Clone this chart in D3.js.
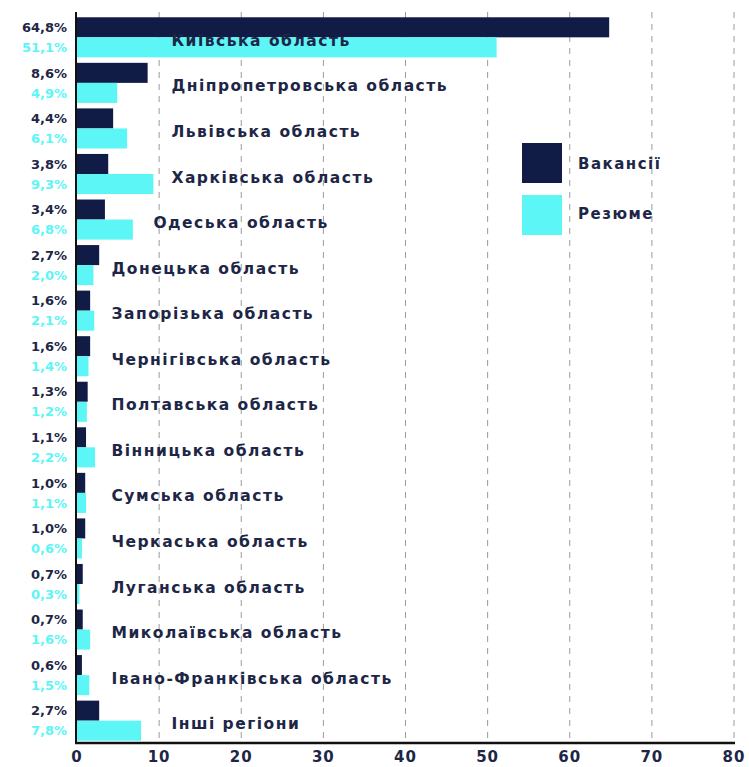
<!DOCTYPE html>
<html>
<head>
<meta charset="utf-8">
<script src="https://cdn.jsdelivr.net/npm/d3@7"></script>
<style>
  body { margin: 0; background: #fff; }
  text { font-family: "DejaVu Sans", sans-serif; font-weight: 700; }
</style>
</head>
<body>
<div id="graph"></div>
<script>
const width = 749,
  height = 767;

const regions = [
  "Київська область", "Дніпропетровська область", "Львівська область", "Харківська область",
  "Одеська область", "Донецька область", "Запорізька область", "Чернігівська область",
  "Полтавська область", "Вінницька область", "Сумська область", "Черкаська область",
  "Луганська область", "Миколаївська область", "Івано-Франківська область", "Інші регіони"
];
const vacancies = [64.8, 8.6, 4.4, 3.8, 3.4, 2.7, 1.6, 1.6, 1.3, 1.1, 1.0, 1.0, 0.7, 0.7, 0.6, 2.7];
const resumes = [51.1, 4.9, 6.1, 9.3, 6.8, 2.0, 2.1, 1.4, 1.2, 2.2, 1.1, 0.6, 0.3, 1.6, 1.5, 7.8];
const xTicks = [0, 10, 20, 30, 40, 50, 60, 70, 80];
const seriesNames = ["Вакансії", "Резюме"];

// where each region name starts, in axis units
const labelAt = [11.5, 11.5, 11.5, 11.5, 9.3, 4.2, 4.2, 4.2, 4.2, 4.2, 4.2, 4.2, 4.2, 4.2, 4.2, 11.5];

const navy = "#111c46",
  cyan = "#5cf6f6",
  ink = "#1d2646";

const svg = d3.select("#graph").append("svg")
  .attr('width', width)
  .attr('height', height);

const x = d3.scaleLinear().domain([0, 80]).range([77, 734]);
const y = d3.scaleBand().domain(regions).range([15, 743]).paddingInner(0.12).paddingOuter(0.05);
const half = y.bandwidth() / 2;

// dashed grid
svg.append("g")
  .selectAll("line")
  .data(xTicks.slice(1))
  .join("line")
  .attr("x1", d => x(d)).attr("x2", d => x(d))
  .attr("y1", 12).attr("y2", 742)
  .attr("stroke", "#9a9a9a")
  .attr("stroke-width", 1)
  .attr("stroke-dasharray", "6,6");

const rows = regions.map((r, i) => ({ r, v: vacancies[i], c: resumes[i], at: labelAt[i] }));

const g = svg.append("g");

g.selectAll("rect.v")
  .data(rows)
  .join("rect")
  .attr("class", "v")
  .attr("x", x(0))
  .attr("y", d => y(d.r))
  .attr("width", d => x(d.v) - x(0))
  .attr("height", half)
  .attr("fill", navy);

g.selectAll("rect.c")
  .data(rows)
  .join("rect")
  .attr("class", "c")
  .attr("x", x(0))
  .attr("y", d => y(d.r) + half)
  .attr("width", d => x(d.c) - x(0))
  .attr("height", half)
  .attr("fill", cyan);

const fmt = v => d3.format(".1f")(v).replace(".", ",") + "%";

g.selectAll("text.vl")
  .data(rows)
  .join("text")
  .attr("class", "vl")
  .attr("x", 67)
  .attr("y", d => y(d.r) + half / 2)
  .attr("dy", "0.36em")
  .attr("text-anchor", "end")
  .attr("font-size", 13)
  .attr("fill", ink)
  .text(d => fmt(d.v));

g.selectAll("text.cl")
  .data(rows)
  .join("text")
  .attr("class", "cl")
  .attr("x", 67)
  .attr("y", d => y(d.r) + half * 1.5)
  .attr("dy", "0.36em")
  .attr("text-anchor", "end")
  .attr("font-size", 13)
  .attr("fill", cyan)
  .text(d => fmt(d.c));

g.selectAll("text.name")
  .data(rows)
  .join("text")
  .attr("class", "name")
  .attr("x", d => x(d.at))
  .attr("y", d => y(d.r) + half + 3)
  .attr("dy", "0.36em")
  .attr("font-size", 15.5)
  .attr("letter-spacing", 1.5)
  .attr("fill", ink)
  .text(d => d.r);

// axes
svg.append("line")
  .attr("x1", 76).attr("x2", 76)
  .attr("y1", 12).attr("y2", 744)
  .attr("stroke", "#111")
  .attr("stroke-width", 2);

svg.append("line")
  .attr("x1", 75).attr("x2", 735)
  .attr("y1", 743).attr("y2", 743)
  .attr("stroke", "#111")
  .attr("stroke-width", 2.5);

svg.append("g")
  .selectAll("text")
  .data(xTicks)
  .join("text")
  .attr("x", d => x(d))
  .attr("y", 757)
  .attr("dy", "0.36em")
  .attr("text-anchor", "middle")
  .attr("font-size", 15)
  .attr("letter-spacing", 1)
  .attr("fill", ink)
  .text(d => d);

// legend
const legend = svg.append("g").attr("transform", "translate(522,143)");
legend.selectAll("rect")
  .data(seriesNames)
  .join("rect")
  .attr("x", 0)
  .attr("y", (d, i) => i * 52)
  .attr("width", 40)
  .attr("height", 40)
  .attr("fill", (d, i) => i ? cyan : navy);
legend.selectAll("text")
  .data(seriesNames)
  .join("text")
  .attr("x", 56)
  .attr("y", (d, i) => i * 50 + 21)
  .attr("dy", "0.36em")
  .attr("font-size", 15)
  .attr("letter-spacing", 1.5)
  .attr("fill", ink)
  .text(d => d);
</script>
</body>
</html>
